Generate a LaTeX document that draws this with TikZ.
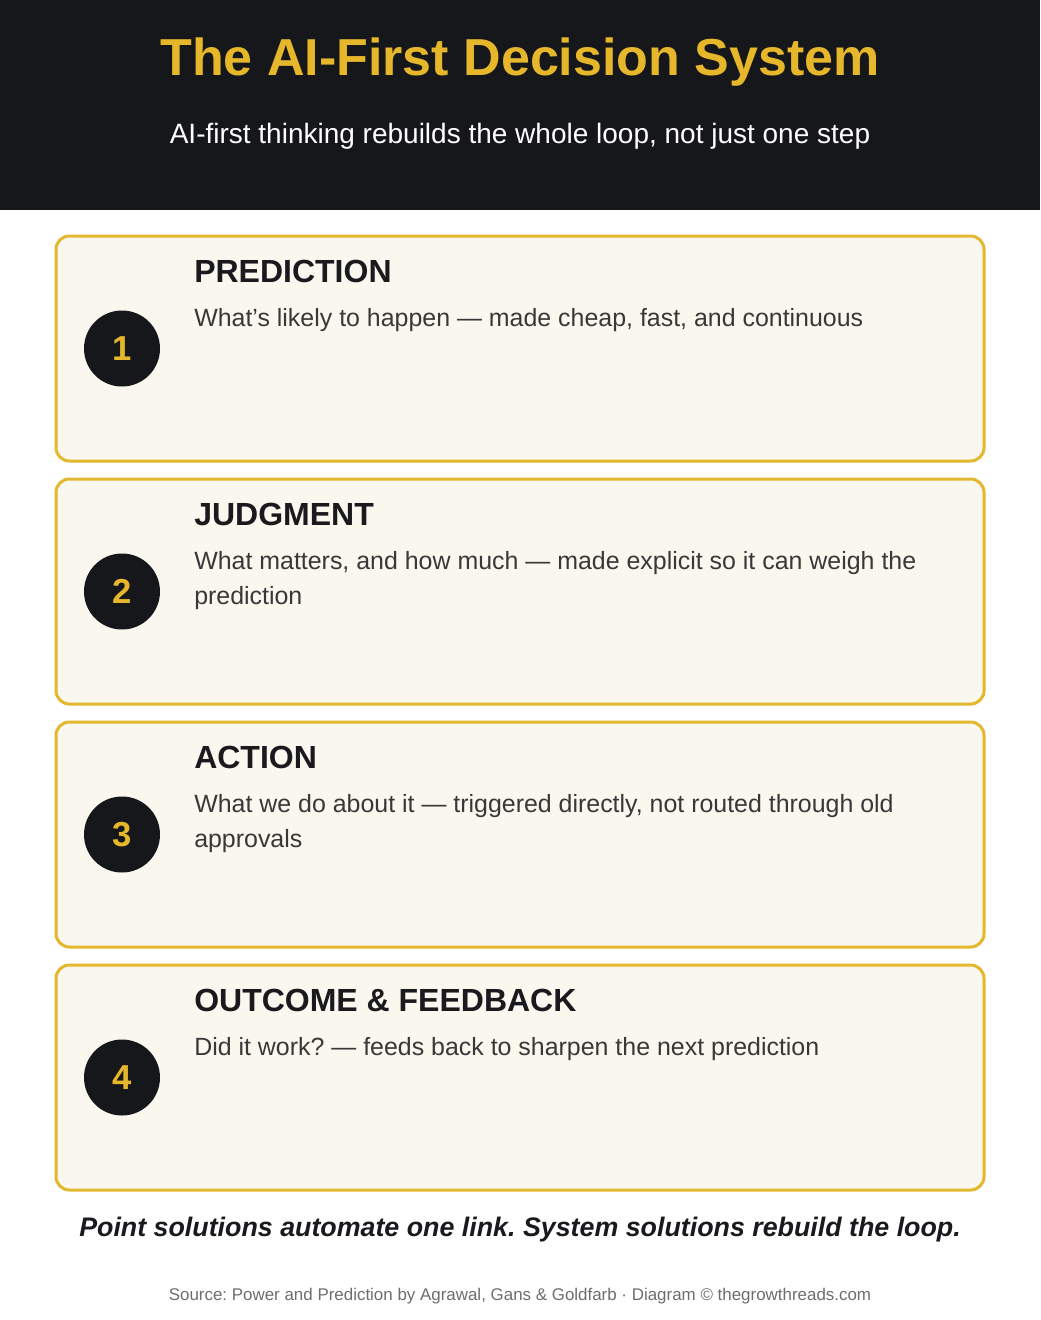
\documentclass[tikz,border=0pt]{standalone}
\usepackage{fontspec}
\setmainfont{Liberation Sans}
\usepackage{tikz}
\frenchspacing

\definecolor{headdark}{HTML}{16171B}
\definecolor{goldline}{HTML}{E3B82E}
\definecolor{goldtext}{HTML}{E6B72B}
\definecolor{cardfill}{HTML}{F9F7EE}
\definecolor{inkdark}{HTML}{1A1A1E}
\definecolor{inkbody}{HTML}{383838}
\definecolor{inkgray}{HTML}{6E6E6E}

\tikzset{
    card/.style={draw=goldline, line width=2.25pt, fill=cardfill, rounded corners=10pt,
                 minimum width=696pt, minimum height=168.75pt, inner sep=0pt},
    badge/.style={circle, fill=headdark, minimum size=57pt, inner sep=0pt,
                  text=goldtext, font=\fontsize{26pt}{30pt}\selectfont\bfseries},
    cardtitle/.style={anchor=base west, inner sep=0pt, text=inkdark,
                      font=\fontsize{24pt}{28pt}\selectfont\bfseries},
    carddesc/.style={anchor=base west, inner sep=0pt, text=inkbody, align=left,
                     font=\fontsize{18.7pt}{26.25pt}\selectfont}
}

\begin{document}
\begin{tikzpicture}[x=0.75pt,y=-0.75pt]
                        % page
                        \useasboundingbox (0,0) rectangle (1040,1320);
                        \fill[white] (0,0) rectangle (1040,1320);

                        % header band
                        \fill[headdark] (0,0) rectangle (1040,210);
                        \node[anchor=base, inner sep=0pt, text=goldtext,
                              font=\fontsize{39pt}{44pt}\selectfont\bfseries] (title) at (520,75)
                              {The AI-First Decision System};
                        \node[anchor=base, inner sep=0pt, text=white,
                              font=\fontsize{21pt}{25pt}\selectfont] (subtitle) at (520,143)
                              {AI-first thinking rebuilds the whole loop, not just one step};

                        % 1 prediction
                        \node[card] (pred) at (520,348.5) {};
                        \node[badge] (prednum) at (122,348.5) {1};
                        \node[cardtitle] (predhead) at (194,282) {PREDICTION};
                        \node[carddesc] (predtext) at (194,326)
                              {What's likely to happen — made cheap, fast, and continuous};

                        % 2 judgment (two lines: base is the last line)
                        \node[card] (judg) at (520,591.5) {};
                        \node[badge] (judgnum) at (122,591.5) {2};
                        \node[cardtitle] (judghead) at (194,525) {JUDGMENT};
                        \node[carddesc] (judgtext) at (194,604)
                              {What matters, and how much — made explicit so it can weigh the\\prediction};

                        % 3 action
                        \node[card] (act) at (520,834.5) {};
                        \node[badge] (actnum) at (122,834.5) {3};
                        \node[cardtitle] (acthead) at (194,768) {ACTION};
                        \node[carddesc] (acttext) at (194,847)
                              {What we do about it — triggered directly, not routed through old\\approvals};

                        % 4 outcome and feedback
                        \node[card] (outc) at (520,1077.5) {};
                        \node[badge] (outcnum) at (122,1077.5) {4};
                        \node[cardtitle] (outchead) at (194,1011) {OUTCOME \& FEEDBACK};
                        \node[carddesc] (outctext) at (194,1055)
                              {Did it work? — feeds back to sharpen the next prediction};

                        % closing line and source
                        \node[anchor=base, inner sep=0pt, text=inkdark,
                              font=\fontsize{20.1pt}{24pt}\selectfont\bfseries\itshape] (tagline) at (520,1236)
                              {Point solutions automate one link. System solutions rebuild the loop.};
                        \node[anchor=base, inner sep=0pt, text=inkgray,
                              font=\fontsize{12.7pt}{15pt}\selectfont] (source) at (520,1300)
                              {Source: Power and Prediction by Agrawal, Gans \& Goldfarb · Diagram © thegrowthreads.com};
                    \end{tikzpicture}
\end{document}
